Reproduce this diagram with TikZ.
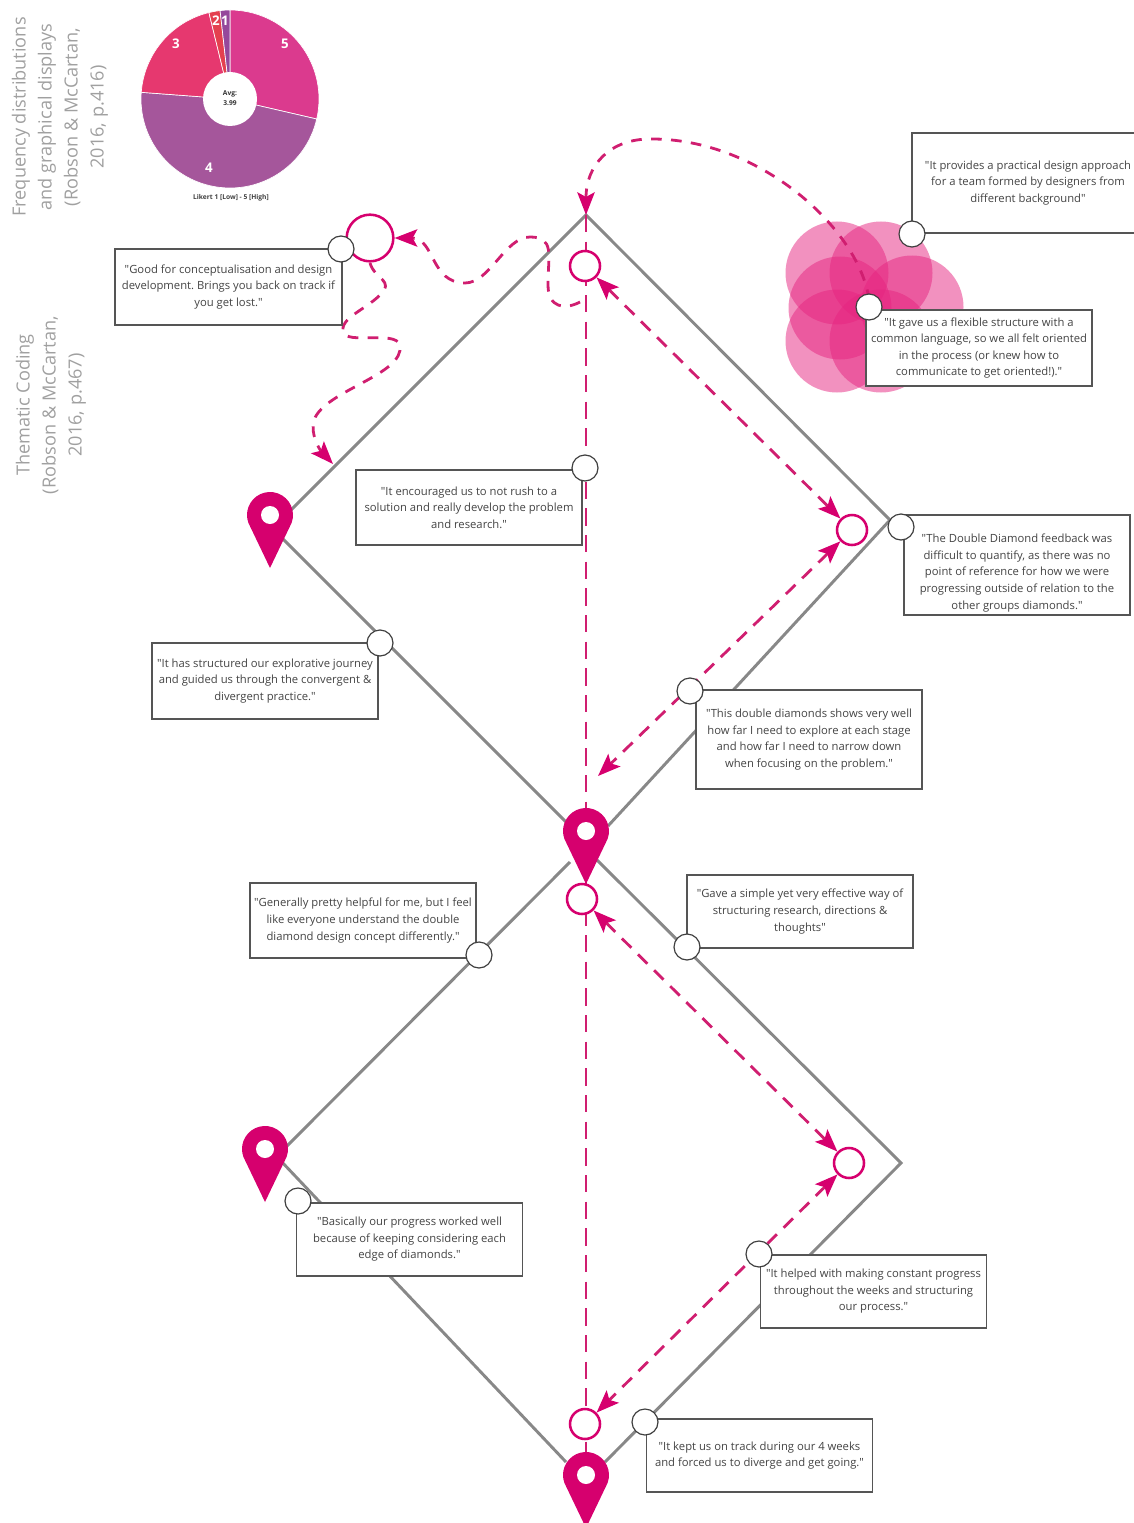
\documentclass[tikz,border=0pt]{standalone}
\usepackage{fontspec}
\setmainfont{Open Sans}
\newfontfamily\qfont{Open Sans}
\usetikzlibrary{arrows.meta,calc}
\definecolor{pk}{HTML}{D6006E}
\definecolor{dash}{HTML}{D01E70}
\definecolor{petal}{HTML}{E5247F}
\definecolor{gline}{HTML}{888888}
\definecolor{bline}{HTML}{555555}
\definecolor{qtext}{HTML}{444444}
\definecolor{side}{HTML}{A0A0A0}
\definecolor{sFive}{HTML}{DB3A8E}
\definecolor{sFour}{HTML}{A5569B}
\definecolor{sThree}{HTML}{E6386F}
\definecolor{sTwo}{HTML}{E4404F}
\definecolor{sOne}{HTML}{95489B}
\tikzset{
  diamondline/.style={draw=gline,line width=2.2pt},
  dashpath/.style={draw=dash,line width=2.1pt,dash pattern=on 8pt off 7pt},
  dashdiag/.style={dashpath,dash pattern=on 10pt off 7pt},
  dashaxis/.style={dashpath,dash pattern=on 13pt off 7pt},
  tip/.style={-{Stealth[length=17pt,width=13pt,inset=3.5pt,color=pk,fill=pk]}},
  bothtip/.style={{Stealth[length=17pt,width=13pt,inset=3.5pt,color=pk,fill=pk]}-{Stealth[length=17pt,width=13pt,inset=3.5pt,color=pk,fill=pk]}},
  qbox/.style={draw=bline,line width=1.1pt,fill=white,text=qtext,align=center,inner sep=0pt,minimum width=169.5pt,font=\frenchspacing\qfont\fontsize{8.45}{12.4}\selectfont},
  wdot/.style={circle,draw=black!75,line width=0.9pt,fill=white,minimum size=19.5pt,inner sep=0pt},
  pdot/.style={circle,draw=pk,line width=1.9pt,fill=white,minimum size=22.5pt,inner sep=0pt},
  sidetext/.style={rotate=90,align=center,text=side,font=\fontsize{13.6}{19.5}\selectfont},
  pielabel/.style={text=white,font=\bfseries\fontsize{10}{11}\selectfont,inner sep=0pt},
  pinbody/.style={fill=pk},
  pinhole/.style={fill=white}
}
\newcommand{\pinmark}[3]{%
  \coordinate (#3) at (#1,#2);
  \fill[pinbody] (#1,#2+53) -- ($(#1,#2)+(20:23)$) arc[start angle=20,end angle=-200,radius=23] -- cycle;
  \fill[pinhole] (#1,#2) circle[radius=9];
}
\begin{document}
\begin{tikzpicture}[x=0.75pt,y=-0.75pt]
\useasboundingbox (0,0) rectangle (1133,1523);

% pie (angles are negated because the y axis points down)
\coordinate (pc) at (230,99);
\foreach \a/\b/\c in {-90/13/sFive,13/184.3/sFour,-175.7/-103.7/sThree,-103.7/-96.4/sTwo,-96.4/-90/sOne}{
  \filldraw[fill=\c,draw=white,line width=0.5pt] (pc) -- ($(pc)+(\a:89)$) arc[start angle=\a,end angle=\b,radius=89] -- cycle;
}
\fill[white] (pc) circle[radius=27];
\node[pielabel] (l5) at (285,44) {5};
\node[pielabel] (l3) at (176,44) {3};
\node[pielabel] (l4) at (209,168) {4};
\node[pielabel] (l2) at (216,21) {2};
\node[pielabel] (l1) at (225,21) {1};
\node[align=center,inner sep=0pt,text=black!80,font=\bfseries\fontsize{5}{7.4}\selectfont] (avg) at (230,98) {Avg:\\3.99};
\node[inner sep=0pt,text=black!75,font=\bfseries\fontsize{5}{6}\selectfont] (likert) at (231,198) {Likert 1 [Low] - 5 [High]};

% side headings
\node[sidetext] (s1) at (60,117) {Frequency distributions\\and graphical displays\\(Robson \& McCartan,\\2016, p.416)};
\node[sidetext] (s2) at (51,405) {Thematic Coding\\(Robson \& McCartan,\\2016, p.467)};

% petals
\foreach \x/\y in {837/273,881/273,840/308,912/307,837/341,881/341}{
  \fill[petal,fill opacity=0.5] (\x,\y) circle[radius=51.5];
}

% diamond vertices
\coordinate (top) at (586,215);
\coordinate (leftA) at (290,511);
\coordinate (leftAb) at (283,539);
\coordinate (midL) at (586,842);
\coordinate (rightA) at (890,520);
\coordinate (midR) at (608,826);
\coordinate (midLb) at (570,862);
\coordinate (leftB) at (287,1146);
\coordinate (leftBb) at (280,1160);
\coordinate (botL) at (566,1462);
\coordinate (midRb) at (597,860);
\coordinate (rightB) at (901,1163);
\coordinate (botR) at (605,1462);
\draw[diamondline] (leftA) -- (top) -- (rightA) -- (midR);
\draw[diamondline] (leftAb) -- (midL);
\draw[diamondline] (midLb) -- (leftB);
\draw[diamondline] (leftBb) -- (botL);
\draw[diamondline] (midRb) -- (rightB) -- (botR);

% vertical dashed axis, behind the pink circles
\coordinate (vend) at (586,1455);
\draw[dashaxis] (top) -- (vend);

% pink circles
\node[pdot,minimum size=35pt] (p0) at (370,238) {};
\node[pdot] (p1) at (585,266) {};
\node[pdot] (p2) at (852,530) {};
\node[pdot] (p3) at (582,899) {};
\node[pdot] (p4) at (849,1163) {};
\node[pdot] (p5) at (585,1424) {};

% dashed paths
\coordinate (petalstart) at (869,300);
\coordinate (midtip) at (598,776);
\draw[dashpath,tip] (petalstart) .. controls (860,230) and (760,138) .. (650,139) .. controls (610,139) and (586,165) .. (top);
\draw[dashdiag,bothtip] (p1) -- (p2);
\draw[dashdiag,bothtip] (p2) -- (midtip);
\draw[dashdiag,bothtip] (p3) -- (p4);
\draw[dashdiag,bothtip] (p4) -- (p5);
\coordinate (sq1) at (580,302);
\draw[dashpath,tip] (sq1) .. controls (565,310) and (548,308) .. (548,285) .. controls (548,255) and (555,237) .. (530,237) .. controls (505,237) and (490,283) .. (465,283) .. controls (430,283) and (435,238) .. (p0.east);
\coordinate (sq2) at (370,263);
\coordinate (sq3) at (333,464);
\draw[dashpath,tip] (sq2) .. controls (375,280) and (395,280) .. (380,295) .. controls (365,310) and (340,318) .. (343,332) .. controls (347,345) and (395,330) .. (400,345) .. controls (405,375) and (325,390) .. (314,420) .. controls (310,435) and (320,450) .. (sq3);

% pins
\pinmark{270}{515}{pinA}
\pinmark{586}{831}{pinB}
\pinmark{265}{1149}{pinC}
\pinmark{586}{1475}{pinD}

% boxes
\node[qbox,minimum width=170.25pt,minimum height=57pt] (b1) at (228.5,287) {"Good for conceptualisation and design\\development. Brings you back on track if\\you get lost."};
\node[qbox,minimum width=174pt,minimum height=75pt] (b2) at (1028,183) {"It provides a practical design approach\\for a team formed by designers from\\different background"};
\node[qbox,minimum height=57pt] (b3) at (979,348) {"It gave us a flexible structure with a\\common language, so we all felt oriented\\in the process (or knew how to\\communicate to get oriented!)."};
\node[qbox,minimum height=56pt] (b4) at (469,507.5) {"It encouraged us to not rush to a\\solution and really develop the problem\\and research."};
\node[qbox,minimum height=75pt] (b5) at (1017,565) {\rule{0pt}{18.5pt}"The Double Diamond feedback was\\difficult to quantify, as there was no\\point of reference for how we were\\progressing outside of relation to the\\other groups diamonds."};
\node[qbox,minimum height=74pt] (b6) at (809,739.5) {"This double diamonds shows very well\\how far I need to explore at each stage\\and how far I need to narrow down\\when focusing on the problem."};
\node[qbox,minimum height=57pt] (b7) at (265,681) {"It has structured our explorative journey\\and guided us through the convergent \&\\divergent practice."};
\node[qbox,minimum height=56pt] (b8) at (363,920.5) {"Generally pretty helpful for me, but I feel\\like everyone understand the double\\diamond design concept differently."};
\node[qbox,minimum height=55pt] (b9) at (800,911.5) {"Gave a simple yet very effective way of\\structuring research, directions \&\\thoughts"};
\node[qbox,minimum height=55pt] (b10) at (409.5,1239.5) {"Basically our progress worked well\\because of keeping considering each\\edge of diamonds."};
\node[qbox,minimum height=55pt] (b11) at (873.5,1291.5) {"It helped with making constant progress\\throughout the weeks and structuring\\our process."};
\node[qbox,minimum height=55pt] (b12) at (759.5,1455.5) {"It kept us on track during our 4 weeks\\and forced us to diverge and get going."};

% white dots
\node[wdot] (w1) at (341,249) {};
\node[wdot] (w2) at (585,468) {};
\node[wdot] (w3) at (901,527) {};
\node[wdot] (w4) at (380,643) {};
\node[wdot] (w5) at (690,691) {};
\node[wdot] (w6) at (687,947) {};
\node[wdot] (w7) at (479,955) {};
\node[wdot] (w8) at (298,1201) {};
\node[wdot] (w9) at (759,1254) {};
\node[wdot] (w10) at (645,1422) {};
\node[wdot] (w11) at (912,234) {};
\node[wdot] (w12) at (869,307) {};
\end{tikzpicture}
\end{document}
